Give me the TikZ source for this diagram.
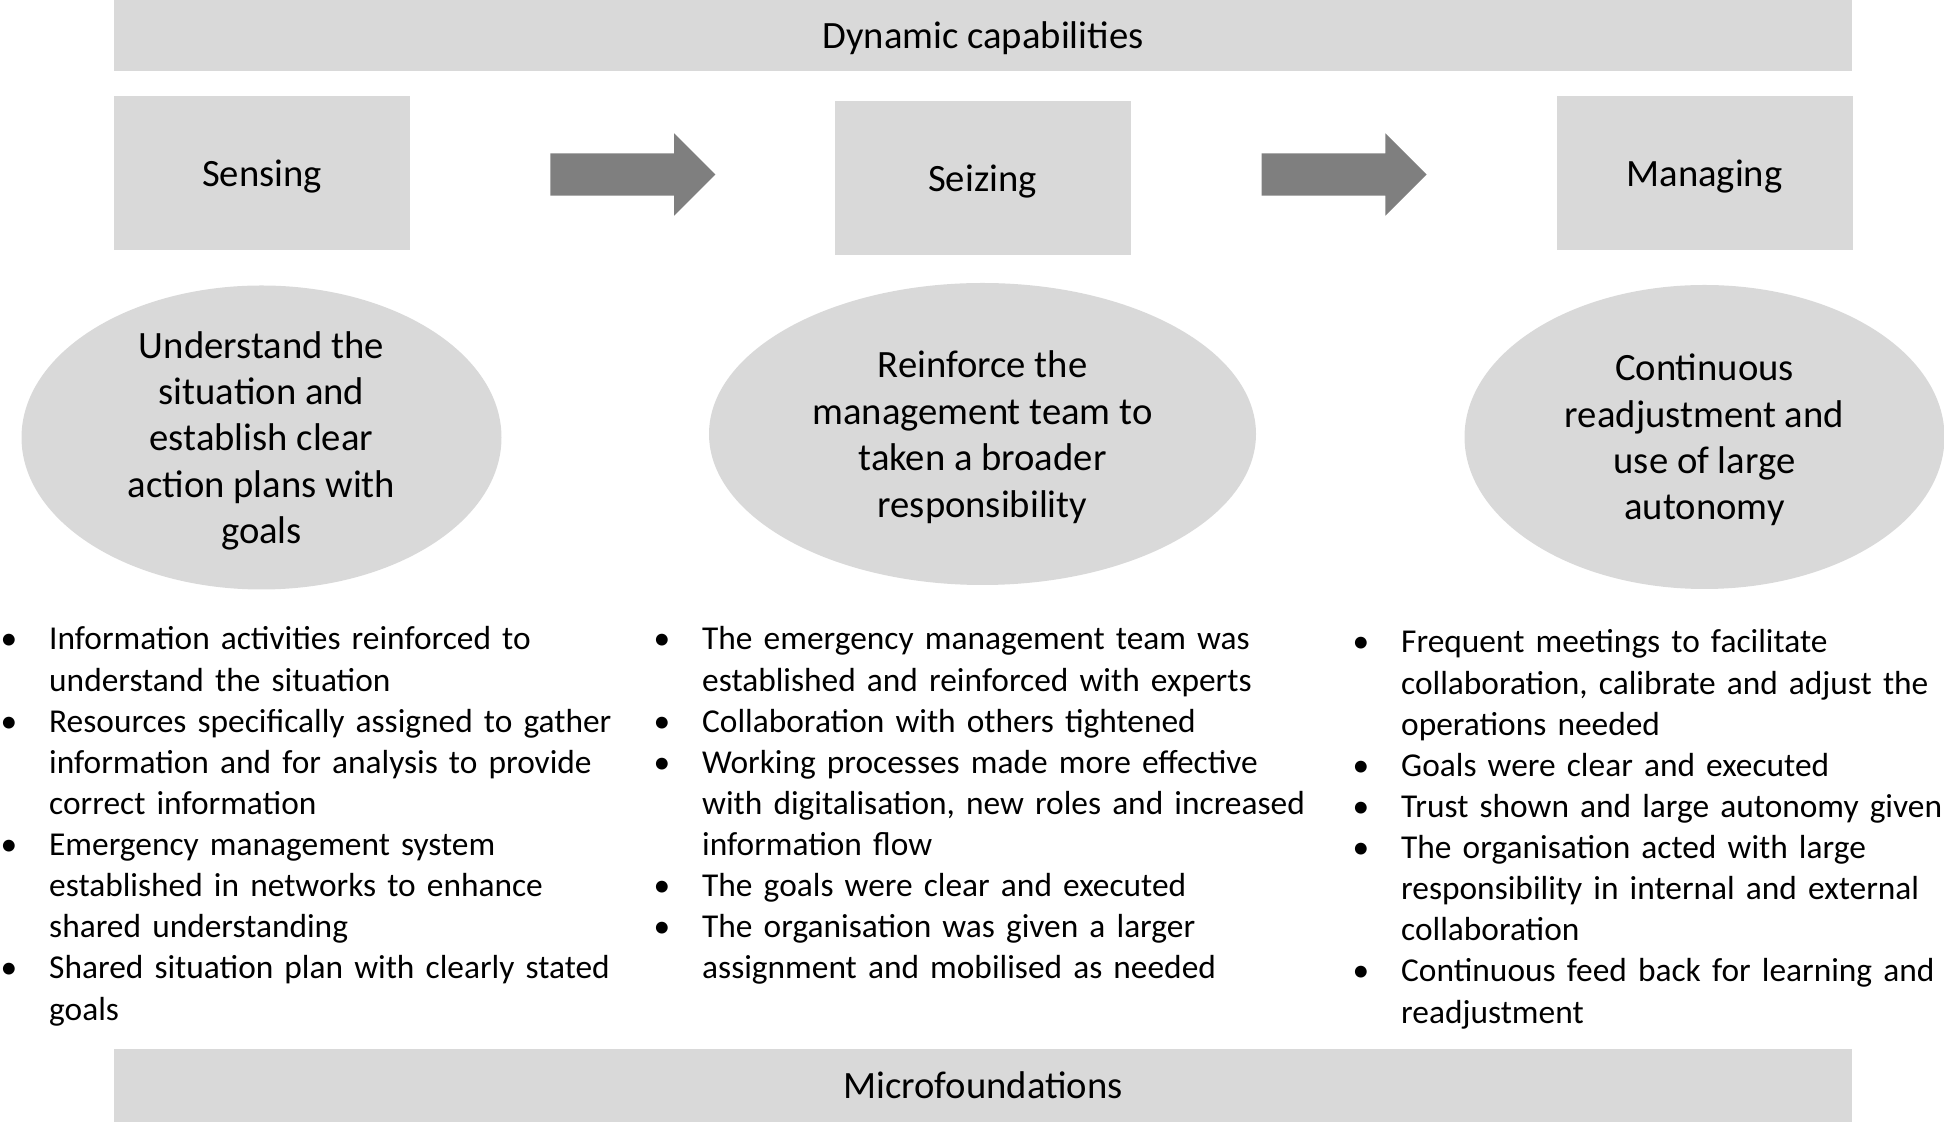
\documentclass[tikz,border=0pt]{standalone}
\usepackage{fontspec}
\setmainfont{Carlito}
\usepackage{tikz}
\usetikzlibrary{positioning,shapes.geometric,shapes.arrows,calc}
\definecolor{capgray}{RGB}{217,217,217}
\definecolor{arrgray}{RGB}{127,127,127}
\newcommand{\bitem}[1]{\noindent\hangindent=4.85mm\hangafter=1
  \makebox[4.85mm][l]{\textbullet}#1\par}

\begin{document}
\begin{tikzpicture}[
  x=0.1mm, y=-0.1mm,
  bar/.style={rectangle, fill=capgray, minimum width=173.8mm,
    minimum height=7.2mm, inner sep=0, text depth=0pt,
    font=\fontsize{11}{13.2}\selectfont},
  phase/.style={rectangle, fill=capgray, minimum width=29.6mm,
    minimum height=15.4mm, inner sep=0, text depth=0pt,
    font=\fontsize{11}{13.2}\selectfont},
  aim/.style={ellipse, fill=capgray, minimum width=48mm,
    minimum height=30.4mm, inner sep=0, align=center, text depth=0pt,
    font=\fontsize{11}{13.2}\selectfont},
  blockarr/.style={single arrow, fill=arrgray, minimum height=16.5mm,
    single arrow head extend=2mm, inner xsep=0, inner ysep=2.05mm},
  blist/.style={anchor=base west, inner sep=0, text width=68mm,
    font=\fontsize{9.5}{11.7}\selectfont},
]
\useasboundingbox (0,0) rectangle (1944,1123);
\node[bar] (dyncap) at (983,35.5) {Dynamic capabilities};
\node[phase] (sensing)  at (262,173)    {Sensing};
\node[phase] (seizing)  at (982.5,178)  {Seizing};
\node[phase] (managing) at (1704.5,173) {Managing};
\node[blockarr] (arr1) at ($(sensing.east)!0.5!(seizing.west)+(0,-1)$) {};
\node[blockarr] (arr2) at ($(seizing.east)!0.5!(managing.west)+(-10,-1)$) {};
\node[aim] (understand) at (261.5,437.5)
  {Understand the\\situation and\\establish clear\\action plans with\\goals};
\node[aim, minimum width=54.7mm, minimum height=30.2mm] (reinforce) at (982.5,434)
  {Reinforce the\\management team to\\taken a broader\\responsibility};
\node[aim] (readjust) at (1704.5,437)
  {Continuous\\readjustment and\\use of large\\autonomy};
\node[blist] (senselist) at (0,650) {%
  \bitem{Information activities reinforced to\newline understand the situation}
  \bitem{Resources specifically assigned to gather\newline information and for analysis to provide\newline correct information}
  \bitem{Emergency management system\newline established in networks to enhance\newline shared understanding}
  \bitem{Shared situation plan with clearly stated\newline goals}};
\node[blist] (seizelist) at (653,650) {%
  \bitem{The emergency management team was\newline established and reinforced with experts}
  \bitem{Collaboration with others tightened}
  \bitem{Working processes made more effective\newline with digitalisation, new roles and increased\newline information flow}
  \bitem{The goals were clear and executed}
  \bitem{The organisation was given a larger\newline assignment and mobilised as needed}};
\node[blist] (managelist) at (1352,653) {%
  \bitem{Frequent meetings to facilitate\newline collaboration, calibrate and adjust the\newline operations needed}
  \bitem{Goals were clear and executed}
  \bitem{Trust shown and large autonomy given}
  \bitem{The organisation acted with large\newline responsibility in internal and external\newline collaboration}
  \bitem{Continuous feed back for learning and\newline readjustment}};
\node[bar, minimum height=7.3mm] (micro) at (983,1085.5) {Microfoundations};
\end{tikzpicture}
\end{document}
